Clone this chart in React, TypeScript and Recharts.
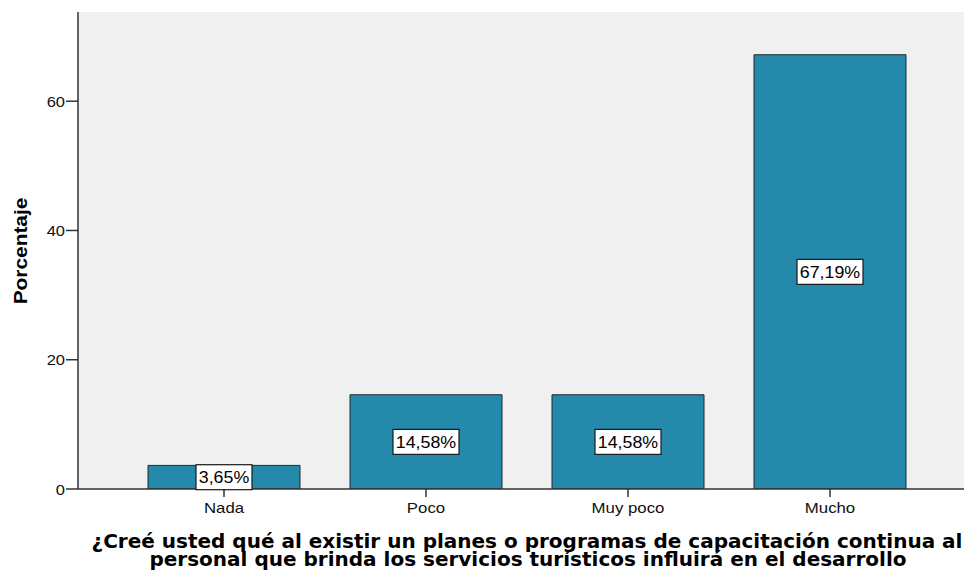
import React from "react";
import { BarChart, Bar, XAxis, YAxis, CartesianGrid, LabelList, Label } from "recharts";

const categories = ["Nada", "Poco", "Muy poco", "Mucho"];
const percentages = [3.65, 14.58, 14.58, 67.19];
const percentLabels = ["3,65%", "14,58%", "14,58%", "67,19%"];
const yTicks = [0, 20, 40, 60];
const yMax = 73.8;
const xTitle1 = "¿Creé usted qué al existir un planes o programas de capacitación continua al";
const xTitle2 = "personal que brinda los servicios turísticos influirá en el desarrollo";
const yTitle = "Porcentaje";

const data = categories.map((c, i) => ({ name: c, value: percentages[i], label: percentLabels[i] }));

const SANS = "'Liberation Sans', Arial, sans-serif";

const BoxLabel = (props: any) => {
  const { x, y, width, height, value } = props;
  const cx = x + width / 2;
  const cy = y + height / 2;
  const w = value.length * 10 + 6;
  const h = 25;
  return (
    <g>
      <rect x={cx - w / 2} y={cy - h / 2} width={w} height={h} fill="#ffffff" stroke="#1a1a1a" strokeWidth={1.2} />
      <text
        transform={`translate(${cx},${cy + 6}) scale(1.08,1)`}
        textAnchor="middle"
        fontFamily={SANS}
        fontSize={16.5}
        fill="#000"
      >
        {value}
      </text>
    </g>
  );
};

const XTick = (props: any) => {
  const { x, payload } = props;
  return (
    <text transform={`translate(${x},513) scale(1.2,1)`} textAnchor="middle" fontFamily={SANS} fontSize={14} fill="#111">
      {payload.value}
    </text>
  );
};

const YTick = (props: any) => {
  const { y, payload } = props;
  return (
    <text transform={`translate(65,${y + 5.5}) scale(1.1,1)`} textAnchor="end" fontFamily={SANS} fontSize={15} fill="#111">
      {payload.value}
    </text>
  );
};

const XTitle = () => {
  return (
    <g>
      <text x={527} y={548} textAnchor="middle" fontFamily="'DejaVu Sans', sans-serif" fontWeight="bold" fontSize={20} fill="#000">
        {xTitle1}
      </text>
      <text x={528} y={566} textAnchor="middle" fontFamily="'DejaVu Sans', sans-serif" fontWeight="bold" fontSize={20} fill="#000">
        {xTitle2}
      </text>
    </g>
  );
};

const YTitle = () => {
  return (
    <text
      transform="translate(27,251) rotate(-90) scale(1.16,1)"
      textAnchor="middle"
      fontFamily={SANS}
      fontWeight="bold"
      fontSize={18}
      fill="#000"
    >
      {yTitle}
    </text>
  );
};

export default function App() {
  return (
    <div style={{ position: "absolute", left: 0, top: 0, width: 964, height: 571, background: "#fff" }}>
      <BarChart width={964} height={571} data={data} margin={{ top: 12, right: 0, bottom: 0, left: 0 }}>
        <CartesianGrid fill="#F0F0F0" horizontal={false} vertical={false} />
        <XAxis
          dataKey="name"
          height={82}
          padding={{ left: 45, right: 33 }}
          axisLine={{ stroke: "#333", strokeWidth: 1.5 }}
          tickLine={{ stroke: "#333", strokeWidth: 1.5 }}
          tickSize={8}
          tick={<XTick />}
        >
          <Label content={<XTitle />} />
        </XAxis>
        <XAxis xAxisId="top" orientation="top" dataKey="name" height={0} tick={false} tickLine={false} axisLine={{ stroke: "#8c8c8c", strokeWidth: 2 }} />
        <YAxis
          width={78}
          domain={[0, yMax]}
          ticks={yTicks}
          allowDataOverflow
          axisLine={{ stroke: "#333", strokeWidth: 1.5 }}
          tickLine={{ stroke: "#333", strokeWidth: 1.5 }}
          tickSize={12}
          tick={<YTick />}
        >
          <Label content={<YTitle />} />
        </YAxis>
        <Bar dataKey="value" fill="#2489AB" stroke="#1d2b33" strokeWidth={1} barSize={152} isAnimationActive={false}>
          <LabelList dataKey="label" content={<BoxLabel />} />
        </Bar>
      </BarChart>
    </div>
  );
}
